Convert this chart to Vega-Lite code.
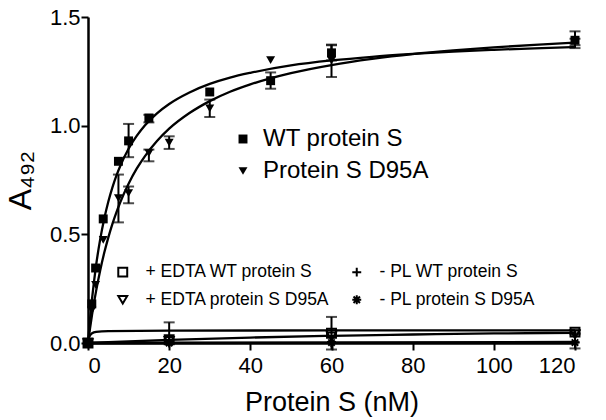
{
  "$schema": "https://vega.github.io/schema/vega-lite/v6.json",
  "width": 487,
  "height": 326,
  "autosize": "none",
  "padding": {"left": 88, "top": 17, "right": 31, "bottom": 77},
  "background": "white",
  "config": {
    "font": "Liberation Sans",
    "view": {"stroke": null},
    "axis": {
      "grid": false,
      "domainColor": "black",
      "domainWidth": 2.5,
      "tickColor": "black",
      "tickWidth": 2,
      "tickSize": 7,
      "labelColor": "black",
      "labelFontSize": 22,
      "titleColor": "black",
      "titleFontWeight": "normal"
    }
  },
  "datasets": {
    "pts": [
      {"group": "main", "series": "WT protein S", "conc": 0, "a": 0},
      {"group": "main", "series": "WT protein S", "conc": 0.94, "a": 0.18},
      {"group": "main", "series": "WT protein S", "conc": 1.875, "a": 0.345},
      {"group": "main", "series": "WT protein S", "conc": 3.75, "a": 0.571},
      {"group": "main", "series": "WT protein S", "conc": 7.5, "a": 0.836},
      {"group": "main", "series": "WT protein S", "conc": 10, "a": 0.93, "lo": 0.855, "hi": 1.008},
      {"group": "main", "series": "WT protein S", "conc": 15, "a": 1.035, "lo": 1.015, "hi": 1.05},
      {"group": "main", "series": "WT protein S", "conc": 30, "a": 1.155},
      {"group": "main", "series": "WT protein S", "conc": 45, "a": 1.207, "lo": 1.17, "hi": 1.245},
      {"group": "main", "series": "WT protein S", "conc": 60, "a": 1.335, "lo": 1.3, "hi": 1.373},
      {"group": "main", "series": "WT protein S", "conc": 120, "a": 1.393, "lo": 1.357, "hi": 1.434},
      {"group": "main", "series": "Protein S D95A", "conc": 0, "a": 0},
      {"group": "main", "series": "Protein S D95A", "conc": 0.94, "a": 0.15},
      {"group": "main", "series": "Protein S D95A", "conc": 1.875, "a": 0.268},
      {"group": "main", "series": "Protein S D95A", "conc": 3.75, "a": 0.475},
      {"group": "main", "series": "Protein S D95A", "conc": 7.5, "a": 0.667, "lo": 0.555, "hi": 0.775},
      {"group": "main", "series": "Protein S D95A", "conc": 10, "a": 0.69, "lo": 0.643, "hi": 0.72},
      {"group": "main", "series": "Protein S D95A", "conc": 15, "a": 0.874, "lo": 0.836, "hi": 0.89},
      {"group": "main", "series": "Protein S D95A", "conc": 20, "a": 0.922, "lo": 0.893, "hi": 0.951},
      {"group": "main", "series": "Protein S D95A", "conc": 30, "a": 1.08, "lo": 1.04, "hi": 1.12},
      {"group": "main", "series": "Protein S D95A", "conc": 45, "a": 1.302},
      {"group": "main", "series": "Protein S D95A", "conc": 60, "a": 1.3, "lo": 1.224, "hi": 1.37},
      {"group": "main", "series": "Protein S D95A", "conc": 120, "a": 1.385, "lo": 1.37, "hi": 1.4},
      {"group": "ctrl", "series": "+ EDTA WT protein S", "conc": 0, "a": 0},
      {"group": "ctrl", "series": "+ EDTA WT protein S", "conc": 20, "a": 0.015, "lo": 0.0, "hi": 0.095},
      {"group": "ctrl", "series": "+ EDTA WT protein S", "conc": 60, "a": 0.045, "lo": -0.03, "hi": 0.12},
      {"group": "ctrl", "series": "+ EDTA WT protein S", "conc": 120, "a": 0.05, "lo": 0.04, "hi": 0.06},
      {"group": "ctrl", "series": "+ EDTA protein S D95A", "conc": 0, "a": 0},
      {"group": "ctrl", "series": "+ EDTA protein S D95A", "conc": 20, "a": 0.01},
      {"group": "ctrl", "series": "+ EDTA protein S D95A", "conc": 60, "a": 0.03},
      {"group": "ctrl", "series": "+ EDTA protein S D95A", "conc": 120, "a": 0.04, "lo": -0.025, "hi": 0.045},
      {"group": "ctrl", "series": "- PL WT protein S", "conc": 0, "a": 0},
      {"group": "ctrl", "series": "- PL WT protein S", "conc": 20, "a": 0.005},
      {"group": "ctrl", "series": "- PL WT protein S", "conc": 60, "a": 0.005},
      {"group": "ctrl", "series": "- PL WT protein S", "conc": 120, "a": 0.004},
      {"group": "ctrl", "series": "- PL protein S D95A", "conc": 0, "a": 0},
      {"group": "ctrl", "series": "- PL protein S D95A", "conc": 20, "a": 0.0},
      {"group": "ctrl", "series": "- PL protein S D95A", "conc": 60, "a": 0.002},
      {"group": "ctrl", "series": "- PL protein S D95A", "conc": 120, "a": 0.002}
    ],
    "fit": [
      {"series": "WT", "conc": 0, "a": 0},
      {"series": "WT", "conc": 0.5, "a": 0.11},
      {"series": "WT", "conc": 1, "a": 0.204},
      {"series": "WT", "conc": 1.5, "a": 0.286},
      {"series": "WT", "conc": 2, "a": 0.358},
      {"series": "WT", "conc": 3, "a": 0.477},
      {"series": "WT", "conc": 4, "a": 0.572},
      {"series": "WT", "conc": 5, "a": 0.65},
      {"series": "WT", "conc": 6, "a": 0.715},
      {"series": "WT", "conc": 7, "a": 0.77},
      {"series": "WT", "conc": 8, "a": 0.817},
      {"series": "WT", "conc": 10, "a": 0.894},
      {"series": "WT", "conc": 12, "a": 0.953},
      {"series": "WT", "conc": 14, "a": 1.001},
      {"series": "WT", "conc": 17, "a": 1.057},
      {"series": "WT", "conc": 20, "a": 1.1},
      {"series": "WT", "conc": 25, "a": 1.153},
      {"series": "WT", "conc": 30, "a": 1.192},
      {"series": "WT", "conc": 35, "a": 1.221},
      {"series": "WT", "conc": 40, "a": 1.243},
      {"series": "WT", "conc": 50, "a": 1.277},
      {"series": "WT", "conc": 60, "a": 1.3},
      {"series": "WT", "conc": 70, "a": 1.317},
      {"series": "WT", "conc": 80, "a": 1.33},
      {"series": "WT", "conc": 90, "a": 1.341},
      {"series": "WT", "conc": 100, "a": 1.349},
      {"series": "WT", "conc": 110, "a": 1.356},
      {"series": "WT", "conc": 120, "a": 1.362},
      {"series": "D95A", "conc": 0, "a": 0},
      {"series": "D95A", "conc": 0.5, "a": 0.068},
      {"series": "D95A", "conc": 1, "a": 0.131},
      {"series": "D95A", "conc": 1.5, "a": 0.188},
      {"series": "D95A", "conc": 2, "a": 0.24},
      {"series": "D95A", "conc": 3, "a": 0.334},
      {"series": "D95A", "conc": 4, "a": 0.415},
      {"series": "D95A", "conc": 5, "a": 0.485},
      {"series": "D95A", "conc": 6, "a": 0.547},
      {"series": "D95A", "conc": 7, "a": 0.601},
      {"series": "D95A", "conc": 8, "a": 0.65},
      {"series": "D95A", "conc": 10, "a": 0.733},
      {"series": "D95A", "conc": 12, "a": 0.802},
      {"series": "D95A", "conc": 14, "a": 0.859},
      {"series": "D95A", "conc": 17, "a": 0.929},
      {"series": "D95A", "conc": 20, "a": 0.986},
      {"series": "D95A", "conc": 25, "a": 1.058},
      {"series": "D95A", "conc": 30, "a": 1.113},
      {"series": "D95A", "conc": 35, "a": 1.156},
      {"series": "D95A", "conc": 40, "a": 1.19},
      {"series": "D95A", "conc": 50, "a": 1.242},
      {"series": "D95A", "conc": 60, "a": 1.279},
      {"series": "D95A", "conc": 70, "a": 1.307},
      {"series": "D95A", "conc": 80, "a": 1.329},
      {"series": "D95A", "conc": 90, "a": 1.346},
      {"series": "D95A", "conc": 100, "a": 1.36},
      {"series": "D95A", "conc": 110, "a": 1.372},
      {"series": "D95A", "conc": 120, "a": 1.382},
      {"series": "EDTA WT", "conc": 0, "a": 0},
      {"series": "EDTA WT", "conc": 20, "a": 0.014},
      {"series": "EDTA WT", "conc": 40, "a": 0.025},
      {"series": "EDTA WT", "conc": 60, "a": 0.033},
      {"series": "EDTA WT", "conc": 80, "a": 0.039},
      {"series": "EDTA WT", "conc": 100, "a": 0.044},
      {"series": "EDTA WT", "conc": 120, "a": 0.047},
      {"series": "EDTA D95A", "conc": 0, "a": 0},
      {"series": "EDTA D95A", "conc": 0.25, "a": 0.025},
      {"series": "EDTA D95A", "conc": 0.5, "a": 0.035},
      {"series": "EDTA D95A", "conc": 1, "a": 0.045},
      {"series": "EDTA D95A", "conc": 2, "a": 0.051},
      {"series": "EDTA D95A", "conc": 5, "a": 0.055},
      {"series": "EDTA D95A", "conc": 20, "a": 0.057},
      {"series": "EDTA D95A", "conc": 60, "a": 0.058},
      {"series": "EDTA D95A", "conc": 120, "a": 0.058},
      {"series": "PL WT", "conc": 0, "a": 0},
      {"series": "PL WT", "conc": 120, "a": 0.005},
      {"series": "PL D95A", "conc": 0, "a": 0},
      {"series": "PL D95A", "conc": 120, "a": 0.001}
    ]
  },
  "encoding": {
    "x": {
      "field": "conc", "type": "quantitative",
      "scale": {"domain": [0, 120], "nice": false, "zero": false},
      "axis": {"title": "Protein S (nM)", "values": [0, 20, 40, 60, 80, 100, 120], "labelPadding": 5, "titleFontSize": 27, "titlePadding": 13}
    },
    "y": {
      "field": "a", "type": "quantitative",
      "scale": {"domain": [0, 1.5], "nice": false, "zero": false},
      "axis": {"title": "A₄₉₂", "values": [0, 0.5, 1, 1.5], "format": ".1f", "labelPadding": 1, "titleFontSize": 32, "titlePadding": 12}
    }
  },
  "layer": [
    {
      "data": {"name": "fit"},
      "mark": {"type": "line", "color": "black", "strokeWidth": 2.3, "interpolate": "monotone"},
      "encoding": {"detail": {"field": "series"}}
    },
    {
      "data": {"name": "pts"},
      "transform": [{"filter": "isValid(datum.lo)"}],
      "mark": {"type": "rule", "color": "black", "strokeWidth": 2},
      "encoding": {
        "y": {"field": "lo", "type": "quantitative", "scale": {"domain": [0, 1.5], "nice": false, "zero": false}, "axis": {"title": "A₄₉₂", "values": [0, 0.5, 1, 1.5], "format": ".1f", "labelPadding": 1, "titleFontSize": 32, "titlePadding": 12}},
        "y2": {"field": "hi"}
      }
    },
    {
      "data": {"name": "pts"},
      "transform": [{"filter": "isValid(datum.lo)"}],
      "mark": {"type": "tick", "orient": "horizontal", "color": "black", "size": 11, "thickness": 2},
      "encoding": {
        "y": {"field": "lo", "type": "quantitative", "scale": {"domain": [0, 1.5], "nice": false, "zero": false}, "axis": {"title": "A₄₉₂", "values": [0, 0.5, 1, 1.5], "format": ".1f", "labelPadding": 1, "titleFontSize": 32, "titlePadding": 12}}
      }
    },
    {
      "data": {"name": "pts"},
      "transform": [{"filter": "isValid(datum.hi)"}],
      "mark": {"type": "tick", "orient": "horizontal", "color": "black", "size": 11, "thickness": 2},
      "encoding": {
        "y": {"field": "hi", "type": "quantitative", "scale": {"domain": [0, 1.5], "nice": false, "zero": false}, "axis": {"title": "A₄₉₂", "values": [0, 0.5, 1, 1.5], "format": ".1f", "labelPadding": 1, "titleFontSize": 32, "titlePadding": 12}}
      }
    },
    {
      "data": {"name": "pts"},
      "transform": [{"filter": "datum.group == 'ctrl'"}],
      "mark": {"type": "point", "filled": false, "color": "black", "size": 80, "strokeWidth": 2, "opacity": 1},
      "encoding": {
        "shape": {
          "field": "series", "type": "nominal",
          "scale": {
            "domain": ["+ EDTA WT protein S", "+ EDTA protein S D95A", "- PL WT protein S", "- PL protein S D95A"],
            "range": ["square", "triangle-down", "M-1,0L1,0M0,-1L0,1", "M0,-1L0,1M-1,0L1,0M-0.72,-0.72L0.72,0.72M-0.72,0.72L0.72,-0.72"]
          },
          "legend": {
            "orient": "none", "legendX": 26, "legendY": 246, "title": null, "columns": 2, "columnPadding": 18,
            "padding": 0, "labelFontSize": 17.5, "labelColor": "black", "labelOffset": 14, "labelLimit": 400, "rowPadding": 9,
            "symbolSize": 80, "symbolStrokeWidth": 2, "symbolStrokeColor": "black", "symbolFillColor": "transparent"
          }
        }
      }
    },
    {
      "data": {"name": "pts"},
      "transform": [{"filter": "datum.group == 'main'"}],
      "mark": {"type": "point", "filled": true, "color": "black", "size": 80, "opacity": 1},
      "encoding": {
        "shape": {
          "field": "series", "type": "nominal",
          "scale": {"domain": ["WT protein S", "Protein S D95A"], "range": ["square", "triangle-down"]},
          "legend": {
            "orient": "none", "legendX": 143, "legendY": 110, "title": null, "padding": 0,
            "labelFontSize": 24, "labelColor": "black", "labelOffset": 8, "labelLimit": 400, "rowPadding": 8,
            "symbolSize": 80, "symbolFillColor": "black", "symbolStrokeColor": "black"
          }
        }
      }
    }
  ],
  "resolve": {"scale": {"shape": "independent"}}
}
